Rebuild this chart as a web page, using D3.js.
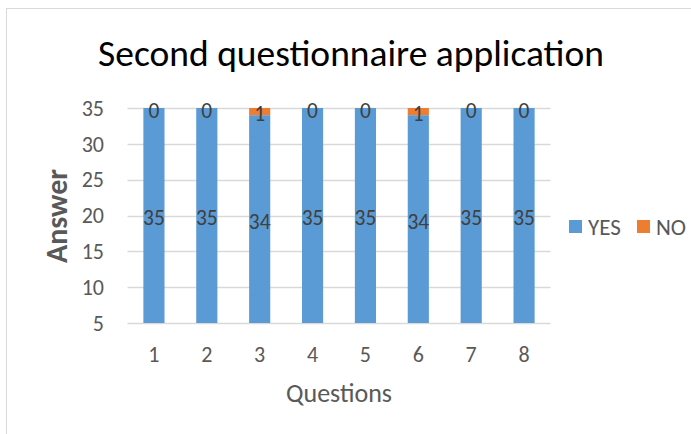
<!DOCTYPE html>
<html>
<head>
<meta charset="utf-8">
<script src="https://cdn.jsdelivr.net/npm/d3@7"></script>
<style>
  body { margin: 0; background: #fff; }
  text { font-family: Carlito, "Open Sans", "Liberation Sans", sans-serif; }
</style>
</head>
<body>
<div id="wrapper"></div>
<script>
let questions = ["1", "2", "3", "4", "5", "6", "7", "8"];
let yesValues = [35, 35, 34, 35, 35, 34, 35, 35];
let noValues = [0, 0, 1, 0, 0, 1, 0, 0];
let seriesNames = ["YES", "NO"];
let yTicks = [5, 10, 15, 20, 25, 30, 35];

const width = 691;
const height = 434;

let svg = d3
  .select("#wrapper")
  .append("svg")
  .attr("width", width)
  .attr("height", height);

// chart frame
svg
  .append("rect")
  .attr("x", 6.5)
  .attr("y", 8.5)
  .attr("width", 700)
  .attr("height", 440)
  .attr("fill", "#fff")
  .attr("stroke", "#d9d9d9");

let rows = questions.map((q, i) => ({ q: q, YES: yesValues[i], NO: noValues[i] }));
let stacked = d3.stack().keys(seriesNames)(rows);

let xScale = d3.scaleBand().domain(questions).range([127.5, 550.5]).paddingInner(0.6).paddingOuter(0.3);
let yScale = d3.scaleLinear().domain([5, 35]).range([323, 108]).clamp(true);
let colorScale = d3.scaleOrdinal().domain(seriesNames).range(["#5b9bd5", "#ed7d31"]);

// gridlines
svg
  .append("g")
  .selectAll("line")
  .data(yTicks)
  .join("line")
  .attr("x1", 127.5)
  .attr("x2", 550.5)
  .attr("y1", d => Math.round(yScale(d)) + 0.5)
  .attr("y2", d => Math.round(yScale(d)) + 0.5)
  .attr("stroke", "#d9d9d9")
  .attr("stroke-width", 1.5);

// y tick labels
svg
  .append("g")
  .selectAll("text")
  .data(yTicks)
  .join("text")
  .attr("x", 104)
  .attr("y", d => yScale(d))
  .attr("dy", "0.35em")
  .attr("text-anchor", "end")
  .attr("font-size", 22)
  .attr("fill", "#595959")
  .text(d => d);

// bars
svg
  .append("g")
  .selectAll("g")
  .data(stacked)
  .join("g")
  .attr("fill", d => colorScale(d.key))
  .selectAll("rect")
  .data(d => d)
  .join("rect")
  .attr("x", d => xScale(d.data.q))
  .attr("width", xScale.bandwidth())
  .attr("y", d => yScale(d[1]))
  .attr("height", d => yScale(d[0]) - yScale(d[1]));

// data labels
svg
  .append("g")
  .selectAll("g")
  .data(stacked)
  .join("g")
  .selectAll("text")
  .data(d => d)
  .join("text")
  .attr("x", d => xScale(d.data.q) + xScale.bandwidth() / 2)
  .attr("y", d => {
    let lo = Math.max(d[0], 5);
    return (yScale(lo) + yScale(d[1])) / 2 + 2;
  })
  .attr("dy", "0.35em")
  .attr("text-anchor", "middle")
  .attr("font-size", 21.5)
  .attr("fill", "#404040")
  .text(d => d[1] - d[0]);

// x tick labels
svg
  .append("g")
  .selectAll("text")
  .data(questions)
  .join("text")
  .attr("x", d => xScale(d) + xScale.bandwidth() / 2)
  .attr("y", 354)
  .attr("dy", "0.35em")
  .attr("text-anchor", "middle")
  .attr("font-size", 22)
  .attr("fill", "#595959")
  .text(d => d);

// axis titles
svg
  .append("text")
  .attr("x", 339)
  .attr("y", 393)
  .attr("dy", "0.35em")
  .attr("text-anchor", "middle")
  .attr("font-size", 26)
  .attr("fill", "#595959")
  .text("Questions");

svg
  .append("text")
  .attr("transform", "translate(56, 216) rotate(-90)")
  .attr("dy", "0.35em")
  .attr("text-anchor", "middle")
  .attr("font-size", 30)
  .attr("font-weight", "bold")
  .attr("fill", "#595959")
  .text("Answer");

// title
svg
  .append("text")
  .attr("x", 351)
  .attr("y", 53)
  .attr("dy", "0.35em")
  .attr("text-anchor", "middle")
  .attr("font-size", 37.5)
  .attr("fill", "#000")
  .text("Second questionnaire application");

// legend
let legend = svg
  .append("g")
  .selectAll("g")
  .data(seriesNames)
  .join("g")
  .attr("transform", (d, i) => `translate(${569 + i * 68}, 220)`);

legend
  .append("rect")
  .attr("width", 13)
  .attr("height", 13)
  .attr("fill", d => colorScale(d));

legend
  .append("text")
  .attr("x", 19)
  .attr("y", 7)
  .attr("dy", "0.35em")
  .attr("font-size", 23)
  .attr("fill", "#595959")
  .text(d => d);
</script>
</body>
</html>
